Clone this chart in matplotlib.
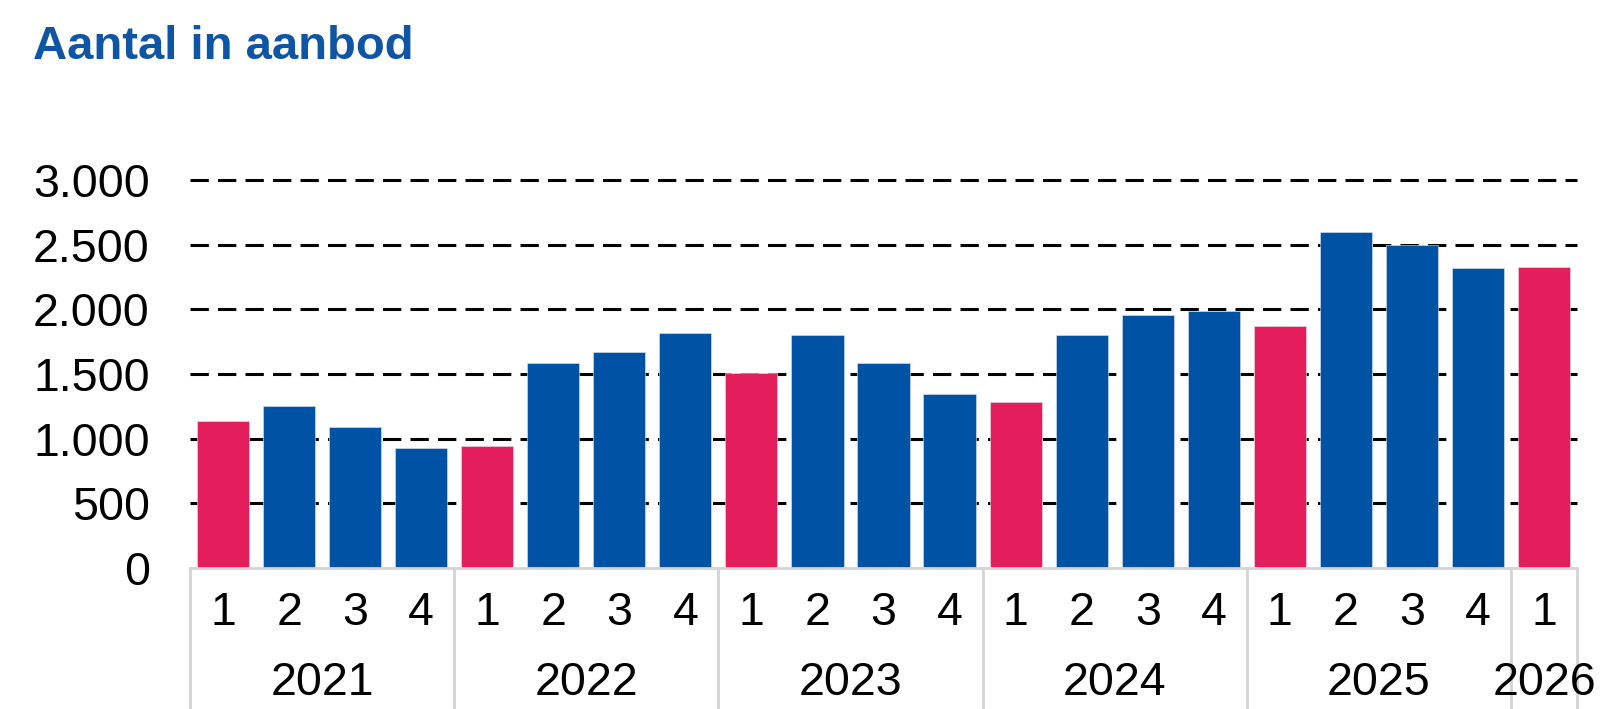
import numpy as np
import matplotlib
matplotlib.use("Agg")
import matplotlib.pyplot as plt

# data
years = ["2021", "2022", "2023", "2024", "2025", "2026"]
quarters = [1, 2, 3, 4, 1, 2, 3, 4, 1, 2, 3, 4, 1, 2, 3, 4, 1, 2, 3, 4, 1]
values = [1140, 1250, 1090, 930, 940, 1585, 1670, 1815, 1510, 1800, 1585, 1345,
          1280, 1800, 1955, 1985, 1872, 2595, 2500, 2318, 2328]
yticks = [0, 500, 1000, 1500, 2000, 2500, 3000]
ytick_labels = ["0", "500", "1.000", "1.500", "2.000", "2.500", "3.000"]

BLUE = "#0053A4"
PINK = "#E41D5D"
GRID_GRAY = "#D4D4D4"

plt.rcParams['font.family'] = ['Liberation Sans', 'DejaVu Sans']

fig = plt.figure(figsize=(16, 7.09), dpi=100)
ax = fig.add_axes([190 / 1600, 1 - 568 / 709, (1577 - 190) / 1600, (568 - 180) / 709])

x = np.arange(len(values))
colors = [PINK if q == 1 else BLUE for q in quarters]
ax.bar(x, values, width=0.79, color=colors, edgecolor="#dfe6f0", linewidth=0.4, zorder=3)

ax.set_xlim(-0.5, len(values) - 0.5)
ax.set_ylim(0, 3000)

# dashed gridlines
for t in yticks[1:]:
    ax.axhline(t, color="black", lw=2.2, ls=(0, (6, 3)), zorder=1, clip_on=False)

ax.set_yticks(yticks)
ax.set_yticklabels(ytick_labels, fontsize=33.5)
ax.tick_params(axis="y", length=0, pad=29)
ax.set_xticks([])
for s in ax.spines.values():
    s.set_visible(False)

# category axis box
tr = ax.get_xaxis_transform()
ax.plot([-0.5, len(values) - 0.5], [0, 0], color=GRID_GRAY, lw=2, transform=tr, clip_on=False, zorder=4)
bounds = [-0.5]
start = 0
groups = []
for i, q in enumerate(quarters):
    if q == 1 and i > 0:
        groups.append((start, i - 1))
        bounds.append(i - 0.5)
        start = i
groups.append((start, len(quarters) - 1))
bounds.append(len(quarters) - 0.5)
for b in bounds:
    ax.plot([b, b], [0, -0.4], color=GRID_GRAY, lw=2, transform=tr, clip_on=False)

for i, q in enumerate(quarters):
    ax.text(i, -0.147, str(q), transform=tr, ha="center", va="baseline", fontsize=33.5)
for (a, b), yr in zip(groups, years):
    ax.text((a + b) / 2, -0.327, yr, transform=tr, ha="center", va="baseline", fontsize=33.5)

fig.text(33 / 1600, 1 - 59 / 709, "Aantal in aanbod", fontsize=34, fontweight="bold",
         color="#0F55A5", va="baseline", ha="left")

fig.savefig("out.png", dpi=100)
